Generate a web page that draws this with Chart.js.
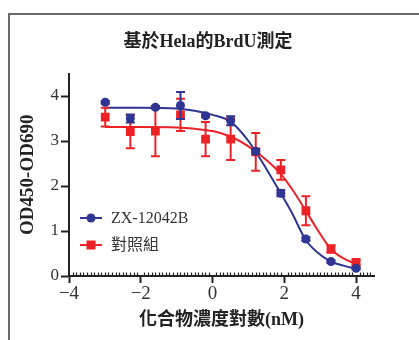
<!DOCTYPE html>
<html><head><meta charset="utf-8">
<script src="https://cdn.jsdelivr.net/npm/chart.js@4.4.0/dist/chart.umd.min.js"></script>
<style>
html,body{margin:0;padding:0;background:#fff;}
#wrap{position:relative;width:419px;height:340px;overflow:hidden;background:#fff;}
#frame{position:absolute;left:8px;top:13px;width:500px;height:400px;border-top:2px solid #6b6b6b;border-left:2px solid #6b6b6b;pointer-events:none;}
canvas{position:absolute;left:0;top:0;}
</style></head><body>
<div id="wrap"><canvas id="c" width="419" height="340"></canvas><div id="frame"></div></div>
<script>
// ---- text ----
const chartTitle = '基於Hela的BrdU測定';
const xAxisTitle = '化合物濃度對數(nM)';
const yAxisTitle = 'OD450-OD690';
const seriesNames = ['ZX-12042B', '對照組'];

// ---- measured points (log10 concentration, nM) ----
const logDose = [-2.990, -2.291, -1.592, -0.893, -0.194, 0.505, 1.204, 1.903, 2.602, 3.301, 4.000];
const drugMean = [3.86, 3.50, 3.75, 3.79, 3.56, 3.45, 2.77, 1.84, 0.82, 0.32, 0.17];
const drugErr  = [0.03, 0.09, 0.03, 0.30, 0.03, 0.10, 0.05, 0.07, 0.04, 0.03, 0.02];
const ctrlMean = [3.53, 3.21, 3.22, 3.58, 3.04, 3.04, 2.76, 2.36, 1.45, 0.60, 0.30];
const ctrlErr  = [0.21, 0.37, 0.56, 0.36, 0.38, 0.46, 0.42, 0.22, 0.32, 0.08, 0.05];

// ---- fitted curves ----
const curveX     = [-3, -2, -1, -0.5, 0, 0.5, 1.0, 1.5, 1.9, 2.2, 2.6, 2.9, 3.3, 3.65, 4.0];
const drugCurve  = [3.74, 3.74, 3.72, 3.67, 3.58, 3.43, 3.00, 2.38, 1.84, 1.42, 0.80, 0.54, 0.32, 0.23, 0.16];
const ctrlCurve  = [3.31, 3.31, 3.30, 3.27, 3.22, 3.10, 2.88, 2.58, 2.27, 1.95, 1.45, 1.06, 0.60, 0.39, 0.27];

// ---- axis ticks ----
const xMajorTicks = [-4, -2, 0, 2, 4];
const yMajorTicks = [0, 1, 2, 3, 4];
const xMinorStep = 0.1;

const BLUE = '#2e3592';
const RED = '#ec2227';
const SERIF = "'Liberation Serif', 'Noto Sans CJK TC', serif";

const pts = (xs, ys) => xs.map((x, i) => ({x: x, y: ys[i]}));

const errorBars = {
  id: 'errorBars',
  beforeDatasetDraw(chart, args) {
    const ds = chart.data.datasets[args.index];
    if (!ds.errors) return;
    const {ctx, scales: {x, y}} = chart;
    ctx.save();
    ctx.strokeStyle = ds.borderColor;
    ctx.lineWidth = 2;
    ds.data.forEach((p, i) => {
      const e = ds.errors[i];
      const px = x.getPixelForValue(p.x);
      const yt = y.getPixelForValue(p.y + e);
      const yb = y.getPixelForValue(p.y - e);
      ctx.beginPath();
      ctx.moveTo(px, yt); ctx.lineTo(px, yb);
      ctx.moveTo(px - 4.5, yt); ctx.lineTo(px + 4.5, yt);
      ctx.moveTo(px - 4.5, yb); ctx.lineTo(px + 4.5, yb);
      ctx.stroke();
    });
    ctx.restore();
  }
};

const decor = {
  id: 'decor',
  afterDraw(chart) {
    const {ctx, scales: {x, y}} = chart;
    ctx.save();
    // minor ticks on x axis (pointing up)
    ctx.strokeStyle = '#222';
    ctx.lineWidth = 1.2;
    const y0 = y.getPixelForValue(0);
    for (let k = -39; k <= 44; k++) {
      if (k % 20 === 0) continue;
      const v = k * xMinorStep;
      const px = Math.round(x.getPixelForValue(v)) + 0.5;
      ctx.beginPath(); ctx.moveTo(px, y0); ctx.lineTo(px, y0 - 3.5); ctx.stroke();
    }
    // title
    ctx.fillStyle = '#222';
    ctx.font = 'bold 18px ' + SERIF;
    ctx.textAlign = 'center';
    ctx.textBaseline = 'middle';
    ctx.fillText(chartTitle, 208, 42);
    // legend
    const items = [
      {label: chart.data.datasets[0].label, color: BLUE, style: 'circle', y: 218},
      {label: chart.data.datasets[1].label, color: RED, style: 'rect', y: 245}
    ];
    items.forEach(it => {
      ctx.strokeStyle = it.color; ctx.fillStyle = it.color; ctx.lineWidth = 2;
      ctx.beginPath(); ctx.moveTo(80, it.y); ctx.lineTo(102, it.y); ctx.stroke();
      if (it.style === 'circle') {
        ctx.beginPath(); ctx.arc(91, it.y, 4.5, 0, Math.PI * 2); ctx.fill();
      } else {
        ctx.fillRect(91 - 4.5, it.y - 4.5, 9, 9);
      }
      ctx.fillStyle = '#333';
      ctx.font = '16px ' + SERIF;
      ctx.textAlign = 'left';
      ctx.fillText(it.label, 111, it.y + 1);
    });
    ctx.restore();
  }
};

new Chart(document.getElementById('c'), {
  type: 'line',
  data: {
    datasets: [
      {label: seriesNames[0], data: pts(logDose, drugMean), errors: drugErr, showLine: false,
       borderColor: BLUE, backgroundColor: BLUE, pointStyle: 'circle', pointRadius: 4.5, pointBorderWidth: 0, order: 0},
      {label: seriesNames[1], data: pts(logDose, ctrlMean), errors: ctrlErr, showLine: false,
       borderColor: RED, backgroundColor: RED, pointStyle: 'rect', pointRadius: 6.2, pointBorderWidth: 0, order: 1},
      {label: seriesNames[0] + ' fit', data: pts(curveX, drugCurve), borderColor: BLUE, borderWidth: 2,
       pointRadius: 0, cubicInterpolationMode: 'monotone', fill: false, order: 2},
      {label: seriesNames[1] + ' fit', data: pts(curveX, ctrlCurve), borderColor: RED, borderWidth: 2,
       pointRadius: 0, cubicInterpolationMode: 'monotone', fill: false, order: 3}
    ]
  },
  options: {
    responsive: false,
    animation: false,
    events: [],
    layout: {padding: {left: 0, right: 45, top: 73.5, bottom: 0}},
    plugins: {legend: {display: false}, tooltip: {enabled: false}, title: {display: false}},
    scales: {
      x: {
        type: 'linear', min: -4, max: 4.5,
        afterBuildTicks: s => { s.ticks = xMajorTicks.map(v => ({value: v})); },
        afterFit: s => { s.height = 64; },
        grid: {display: true, drawOnChartArea: false, drawTicks: true, tickLength: 7, tickWidth: 2, tickColor: '#222'},
        border: {display: true, color: '#222', width: 2},
        ticks: {color: '#333', padding: 0, maxRotation: 0, autoSkip: false,
          font: {family: SERIF, size: 19},
          callback: v => (v < 0 ? '\u2212' + Math.abs(v) : String(v))},
        title: {display: true, text: xAxisTitle, color: '#222', padding: {top: 0, bottom: 9},
          font: {family: SERIF, size: 18, weight: 'bold'}}
      },
      y: {
        type: 'linear', min: 0, max: 4.5,
        afterBuildTicks: s => { s.ticks = yMajorTicks.map(v => ({value: v})); },
        afterFit: s => { s.width = 69; },
        grid: {display: true, drawOnChartArea: false, drawTicks: true, tickLength: 8, tickWidth: 2, tickColor: '#222'},
        border: {display: true, color: '#222', width: 2},
        ticks: {color: '#333', padding: 2, font: {family: SERIF, size: 17}},
        title: {display: true, text: yAxisTitle, color: '#222', padding: {top: 17, bottom: 0},
          font: {family: SERIF, size: 19, weight: 'bold'}}
      }
    }
  },
  plugins: [errorBars, decor]
});
</script>
</body></html>
